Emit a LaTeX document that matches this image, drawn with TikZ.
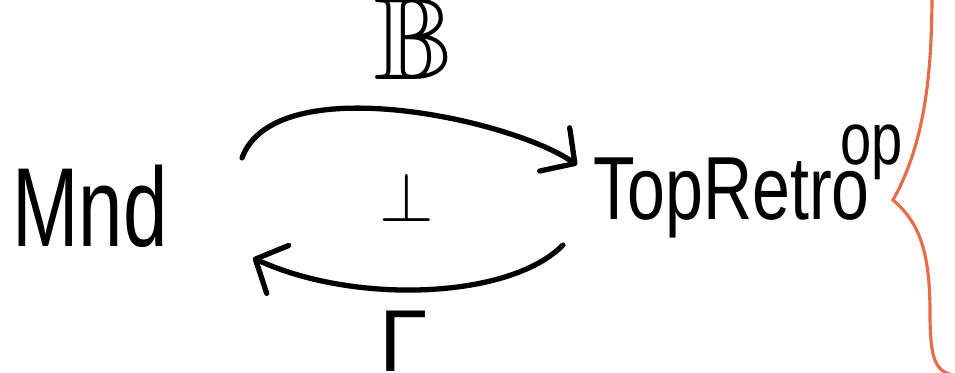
\documentclass[tikz,border=0pt]{standalone}
\usepackage{fix-cm}
\usepackage{amssymb}
\usepackage{fontspec}
\setmainfont{Liberation Sans}
\usepackage{tikz}
\usetikzlibrary{arrows.meta}
\definecolor{braceorange}{RGB}{230,108,74}

\begin{document}
\begin{tikzpicture}[
    obj/.style={inner sep=0pt, xscale=0.71, font=\fontsize{32}{32}\selectfont},
    lbl/.style={inner sep=0pt},
    adj/.style={-{Straight Barb[length=7pt, width=15pt, line cap=round, line join=round]},
                line width=1.5pt, line cap=round},
    bracestroke/.style={draw=braceorange, line width=0.9pt, line cap=round}
]
\useasboundingbox (0,0) rectangle (9.55,3.73);

% Objects (left and right)
\node[obj, anchor=base] (mnd) at (0.90,1.26) {Mnd};
\node[obj, xscale=1.07, anchor=base west, font=\fontsize{25.5}{26}\selectfont] (topretro) at (5.93,1.53)
    {TopRetro\kern-11pt\raisebox{0.62em}{\fontsize{21}{21}\selectfont op}};

% Adjunction (upper arrow, lower arrow)
\draw[adj] ([shift={(1.52,0.89)}]mnd.base) .. controls +(0.33,0.90) and +(-0.66,0.46) ..
    node[lbl, above=7.8pt, xshift=0.17cm, scale=1.35, font=\fontsize{24.88}{25}\selectfont] (bb) {$\mathbb{B}$}
    ([shift={(-0.16,0.55)}]topretro.base west);
\draw[adj] ([shift={(-0.30,-0.25)}]topretro.base west) .. controls +(-0.53,-0.54) and +(1.02,-0.47) ..
    node[lbl, below=5.3pt, xshift=-0.23cm, font=\fontsize{25}{25}\selectfont] (gamma) {Γ}
    ([shift={(1.63,-0.11)}]mnd.base);
\node[lbl, font=\fontsize{20}{20}\selectfont] (adjsym) at (4.07,1.76) {$\perp$};

% Brace
\draw[bracestroke] (9.32,3.80) .. controls (9.32,3.00) and (9.25,2.30) .. (8.93,1.73)
    .. controls (9.20,1.50) and (9.30,1.20) .. (9.30,0.60)
    .. controls (9.30,0.15) and (9.35,0.00) .. (9.55,-0.02);

\end{tikzpicture}
\end{document}
